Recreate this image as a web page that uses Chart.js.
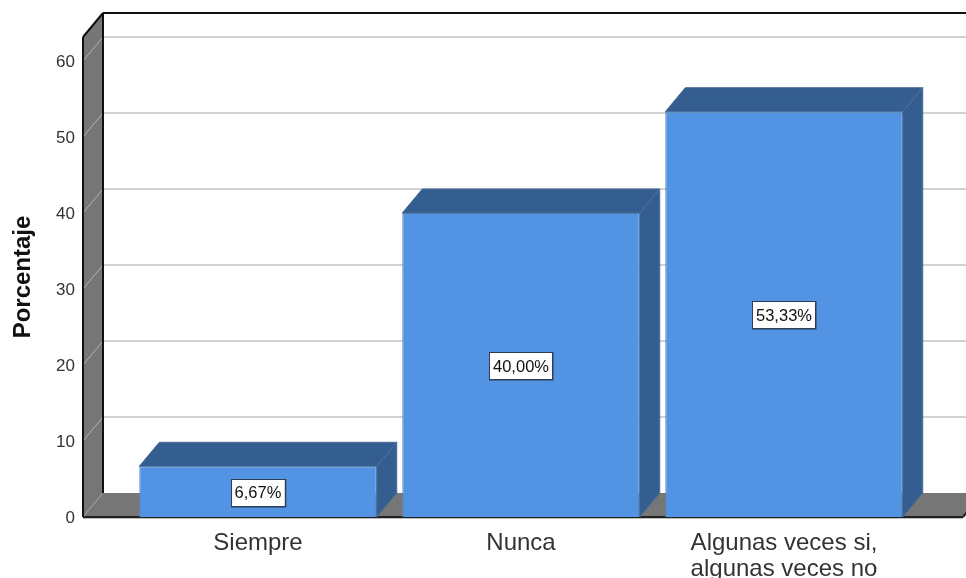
<!DOCTYPE html>
<html lang="es">
<head>
<meta charset="utf-8">
<title>Porcentaje</title>
<script src="https://cdn.jsdelivr.net/npm/chart.js@4"></script>
<style>
    html, body { margin: 0; padding: 0; background: #fff; }
    canvas { display: block; }
</style>
</head>
<body>
<canvas id="grafico" width="966" height="578"></canvas>
<script>
// Datos del gráfico
const categorias = ['Siempre', 'Nunca', ['Algunas veces si,', 'algunas veces no']];
const porcentajes = [6.67, 40.00, 53.33];
const tituloEjeY = 'Porcentaje';

// Efecto 3D: desplazamiento de la pared del fondo
const FONDO_X = 20;
const FONDO_Y = 24;
// Margen de las paredes respecto a las barras
const PARED_IZQ = 43.5;
const PARED_DER = 47.5;

const COLOR_BARRA = '#5294e3';
const COLOR_SOMBRA = '#345d90';
const COLOR_PARED = '#767676';
const COLOR_REJILLA = '#d2d2d2';

function poligono(ctx, puntos, relleno, borde) {
    ctx.beginPath();
    puntos.forEach((p, i) => i ? ctx.lineTo(p[0], p[1]) : ctx.moveTo(p[0], p[1]));
    ctx.closePath();
    ctx.fillStyle = relleno;
    ctx.fill();
    if (borde) {
        ctx.strokeStyle = borde;
        ctx.lineWidth = 1;
        ctx.stroke();
    }
}

function linea(ctx, x1, y1, x2, y2, color, ancho) {
    ctx.beginPath();
    ctx.moveTo(x1, y1);
    ctx.lineTo(x2, y2);
    ctx.strokeStyle = color;
    ctx.lineWidth = ancho;
    ctx.stroke();
}

// Paredes, suelo y rejilla detrás de las barras
const paredes = {
    id: 'paredes',
    beforeDatasetsDraw(chart) {
        const ctx = chart.ctx;
        const area = chart.chartArea;
        const escalaY = chart.scales.y;
        const izq = area.left - PARED_IZQ;
        const der = area.right + PARED_DER;
        const arriba = area.top;
        const abajo = area.bottom;

        ctx.save();
        poligono(ctx, [[izq, abajo], [izq, arriba], [izq + FONDO_X, arriba - FONDO_Y], [izq + FONDO_X, abajo - FONDO_Y]], COLOR_PARED);
        poligono(ctx, [[izq, abajo], [izq + FONDO_X, abajo - FONDO_Y], [der + FONDO_X, abajo - FONDO_Y], [der, abajo]], COLOR_PARED);

        escalaY.ticks.forEach(t => {
            if (t.value === 0) {
                linea(ctx, izq, abajo, izq + FONDO_X, abajo - FONDO_Y, '#a0a0a0', 1);
                return;
            }
            const y = escalaY.getPixelForValue(t.value);
            linea(ctx, izq, y, izq + FONDO_X, y - FONDO_Y, '#b4b4b4', 1);
            linea(ctx, izq + FONDO_X, y - FONDO_Y, chart.width, y - FONDO_Y, COLOR_REJILLA, 2);
        });

        // Bordes negros
        linea(ctx, izq + FONDO_X, arriba - FONDO_Y, chart.width, arriba - FONDO_Y, '#111', 2);
        linea(ctx, izq + FONDO_X, arriba - FONDO_Y, izq + FONDO_X, abajo - FONDO_Y, '#111', 2);
        linea(ctx, izq, abajo, izq, arriba, '#111', 2);
        linea(ctx, izq, arriba, izq + FONDO_X, arriba - FONDO_Y, '#111', 2);
        linea(ctx, izq, abajo + 1.5, der, abajo + 1.5, '#bdbdbd', 1);
        linea(ctx, izq, abajo, der, abajo, '#222', 2);
        linea(ctx, der, abajo, der + FONDO_X, abajo - FONDO_Y, '#222', 2);
        ctx.restore();
    },
    // Caras superior y lateral de cada barra
    afterDatasetsDraw(chart) {
        const ctx = chart.ctx;
        const meta = chart.getDatasetMeta(0);
        ctx.save();
        meta.data.forEach(barra => {
            const mitad = barra.width / 2;
            const x1 = barra.x - mitad;
            const x2 = barra.x + mitad;
            const y1 = barra.y;
            const y2 = barra.base;
            poligono(ctx, [[x1, y1], [x1 + FONDO_X, y1 - FONDO_Y], [x2 + FONDO_X, y1 - FONDO_Y], [x2, y1]], COLOR_SOMBRA, '#4a6d99');
            poligono(ctx, [[x2, y1], [x2 + FONDO_X, y1 - FONDO_Y], [x2 + FONDO_X, y2 - FONDO_Y], [x2, y2]], COLOR_SOMBRA, '#4a6d99');
        });
        ctx.restore();
    }
};

// Etiquetas de valor en caja blanca
const etiquetas = {
    id: 'etiquetas',
    afterDraw(chart) {
        const ctx = chart.ctx;
        const meta = chart.getDatasetMeta(0);
        ctx.save();
        ctx.font = '16.5px "Liberation Sans", Arial, sans-serif';
        ctx.textAlign = 'center';
        ctx.textBaseline = 'middle';
        meta.data.forEach((barra, i) => {
            const texto = porcentajes[i].toFixed(2).replace('.', ',') + '%';
            const ancho = ctx.measureText(texto).width + 6;
            const alto = 26;
            const cy = (barra.y + barra.base) / 2 + 1;
            const x = Math.round(barra.x - ancho / 2);
            const y = Math.round(cy - alto / 2);
            ctx.fillStyle = '#2f3e54';
            ctx.fillRect(x - 1, y - 1, ancho + 2.5, alto + 2.5);
            ctx.fillStyle = '#fff';
            ctx.fillRect(x, y, ancho, alto);
            ctx.fillStyle = '#111';
            ctx.fillText(texto, barra.x, cy + 1);
        });
        ctx.restore();
    }
};

new Chart(document.getElementById('grafico').getContext('2d'), {
    type: 'bar',
    data: {
        labels: categorias,
        datasets: [{
            data: porcentajes,
            backgroundColor: COLOR_BARRA,
            borderColor: '#5f88ba',
            borderWidth: 1,
            barPercentage: 0.903,
            categoryPercentage: 1
        }]
    },
    options: {
        responsive: false,
        animation: false,
        layout: { padding: { top: 37, right: 50.5, bottom: 0, left: 0 } },
        plugins: {
            legend: { display: false },
            tooltip: { enabled: false }
        },
        scales: {
            x: {
                grid: { display: false },
                border: { display: false },
                ticks: {
                    color: '#333',
                    autoSkip: false,
                    maxRotation: 0,
                    padding: 5.5,
                    font: { family: '"Liberation Sans", Arial, sans-serif', size: 24, lineHeight: 1.08 }
                },
                afterFit(escala) { escala.height = 61; }
            },
            y: {
                min: 0,
                max: 63.16,
                grid: { display: false },
                border: { display: false },
                title: {
                    display: true,
                    text: tituloEjeY,
                    color: '#111',
                    padding: { top: 9, bottom: 0 },
                    font: { family: '"Liberation Sans", Arial, sans-serif', size: 24, weight: 'bold' }
                },
                ticks: {
                    stepSize: 10,
                    includeBounds: false,
                    color: '#333',
                    padding: 43.5,
                    labelOffset: 1.5,
                    font: { family: '"Liberation Sans", Arial, sans-serif', size: 17 }
                },
                afterFit(escala) {
                    escala.width = 126.5;
                    // el padding de los ticks no debe reservar espacio vertical
                    escala.paddingTop = 0;
                    escala.paddingBottom = 0;
                }
            }
        }
    },
    plugins: [paredes, etiquetas]
});
</script>
</body>
</html>
